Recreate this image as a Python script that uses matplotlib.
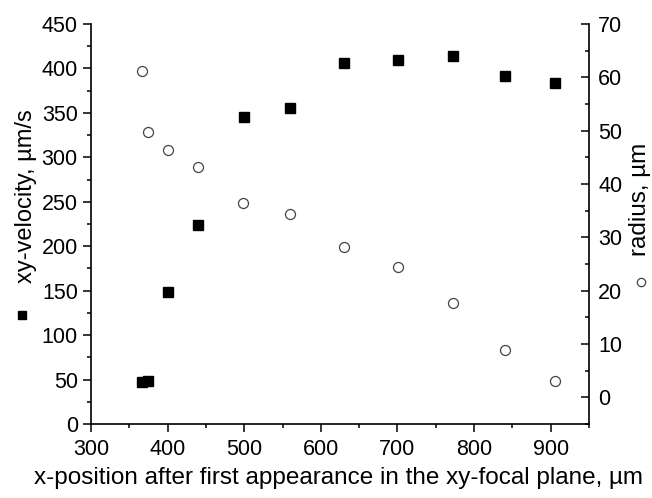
import matplotlib
matplotlib.use("Agg")
import matplotlib.pyplot as plt
from matplotlib.lines import Line2D

plt.rcParams['font.family'] = ['Liberation Sans', 'DejaVu Sans']

# Data
x_velocity = [366, 375, 400, 440, 500, 560, 630, 701, 773, 840, 906]
velocity = [47, 48, 148, 224, 345, 355, 406, 410, 414, 392, 384]
x_radius = [366, 375, 400, 440, 499, 560, 630, 701, 773, 840, 906]
radius = [61.2, 49.8, 46.3, 43.1, 36.4, 34.4, 28.1, 24.4, 17.7, 8.8, 3.1]

xlabel = "x-position after first appearance in the xy-focal plane, µm"
ylabel_left = "xy-velocity, µm/s"
ylabel_right = "radius, µm"

fs_tick = 15.5
fig = plt.figure(figsize=(6.52, 4.98), dpi=100)
ax = fig.add_axes([91/652, 1-424/498, (589-91)/652, 400/498])
ax2 = ax.twinx()

ax.plot(x_velocity, velocity, linestyle='none', marker='s', markersize=6.8,
        markerfacecolor='black', markeredgecolor='black', zorder=3)
ax2.plot(x_radius, radius, linestyle='none', marker='o', markersize=7.2,
         markerfacecolor='white', markeredgecolor='#444444', markeredgewidth=0.9, zorder=3)

ax.set_xlim(300, 950)
ax.set_ylim(0, 450)
ax2.set_ylim(-5, 70)

ax.set_xticks(range(300, 901, 100))
ax.set_xticks(range(350, 951, 100), minor=True)
ax.set_yticks(range(0, 451, 50))
ax.set_yticks(range(25, 451, 50), minor=True)
ax2.set_yticks(range(0, 71, 10))
ax2.set_yticks(range(-5, 71, 10), minor=True)

for a in (ax, ax2):
    a.spines['top'].set_visible(False)
    for s in a.spines.values():
        s.set_linewidth(1.2)
ax2.spines['left'].set_visible(False)
ax2.spines['bottom'].set_visible(False)
ax.spines['right'].set_visible(False)

ax.tick_params(axis='both', which='major', direction='out', length=5.5, width=1.1,
               labelsize=fs_tick, pad=4)
ax.tick_params(axis='both', which='minor', direction='out', length=3, width=1.1)
ax.tick_params(axis='x', which='major', pad=5)
ax2.tick_params(axis='y', which='major', direction='in', length=5.5, width=1.1,
                labelsize=fs_tick, pad=6.5)
ax2.tick_params(axis='y', which='minor', direction='in', length=3, width=1.1)

ax.set_xlabel(xlabel, fontsize=17.5, va='center', ha='center')
ax.xaxis.set_label_coords((339-91)/498, (424-478)/400)
ax.set_ylabel(ylabel_left, fontsize=17, va='center', ha='center', rotation_mode='default')
ax.yaxis.set_label_coords((26-91)/498, (424-196)/400)
ax2.set_ylabel(ylabel_right, fontsize=17.5, va='center', ha='center', rotation_mode='default')
ax2.yaxis.set_label_coords((640-91)/498, (424-199)/400)

# Symbols attached to axis titles
fig.add_artist(Line2D([22/652], [1-315/498], transform=fig.transFigure, linestyle='none',
                      marker='s', markersize=5.5, markerfacecolor='black', markeredgecolor='black'))
fig.add_artist(Line2D([641/652], [1-282/498], transform=fig.transFigure, linestyle='none',
                      marker='o', markersize=6, markerfacecolor='white', markeredgecolor='#444444',
                      markeredgewidth=0.9))

fig.savefig("out.png", dpi=100)
